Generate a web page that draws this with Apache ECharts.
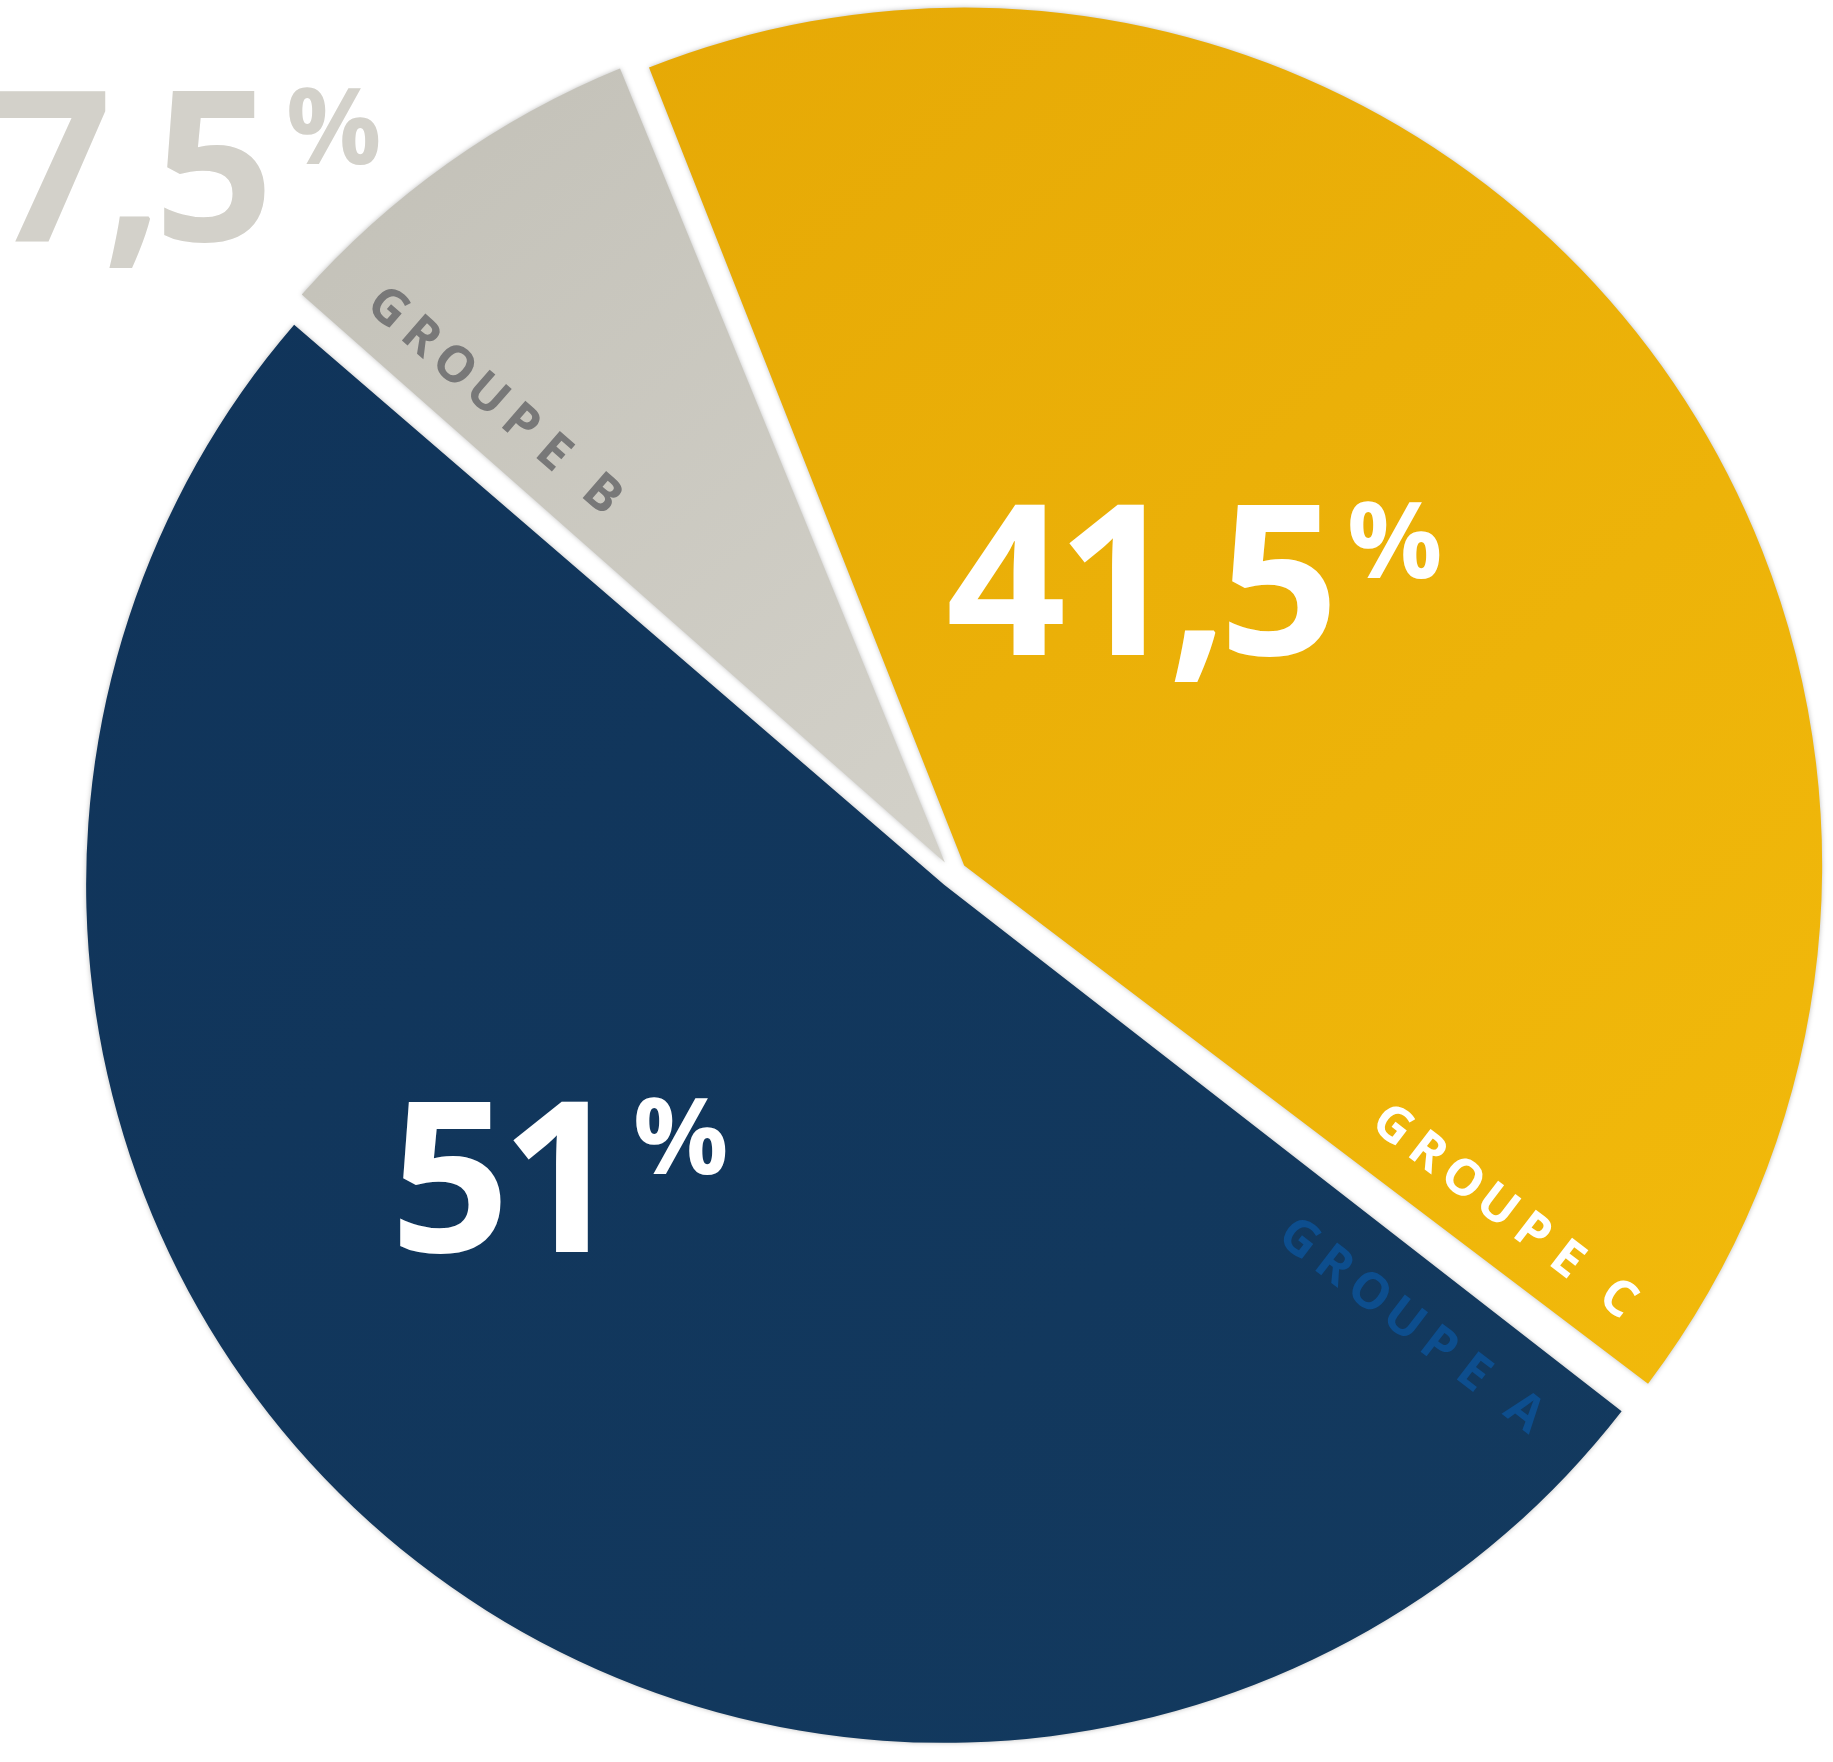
<!DOCTYPE html>
<html>
<head>
<meta charset="utf-8">
<script src="https://cdn.jsdelivr.net/npm/echarts@6/dist/echarts.min.js"></script>
<style>
html,body{margin:0;padding:0;background:#fff;}
#chart{width:1833px;height:1762px;}
</style>
</head>
<body>
<div id="chart"></div>
<script>
// ---- data ----
const categories = ['Groupe C', 'Groupe A', 'Groupe B'];
const values = [41.5, 51, 7.5];
const valueLabels = ['41,5', '51', '7,5'];
const groupLabels = ['GROUPE C', 'GROUPE A', 'GROUPE B'];

// ---- layout / style ----
const CENTER = [953, 874];
const RADIUS = 858;
const START = 111.9;
const PAD = 0.7;
const FAMILY = '"Open Sans", "Noto Sans", sans-serif';
const GROUP_FONT = 50;

const sliceColors = [
  {type:'linear', x:0, y:0, x2:1, y2:1, colorStops:[{offset:0,color:'#E6A906'},{offset:1,color:'#F2BA0B'}]},
  {type:'linear', x:0, y:0, x2:1, y2:1, colorStops:[{offset:0,color:'#10345A'},{offset:1,color:'#133A5F'}]},
  {type:'linear', x:0, y:0, x2:1, y2:1, colorStops:[{offset:0,color:'#C2C0B7'},{offset:1,color:'#D3D1C9'}]}
];

const total = values.reduce((a, b) => a + b, 0);
const bGoldNavy = START - 360 * values[0] / total;
const bNavyGray = bGoldNavy - 360 * values[1] / total;

function placeAlong(theta, rho, delta) {
  const t = theta * Math.PI / 180;
  const ux = Math.cos(t), uy = -Math.sin(t);
  const nx = -Math.sin(t), ny = -Math.cos(t);
  return [CENTER[0] + rho * ux + delta * nx, CENTER[1] + rho * uy + delta * ny];
}

const measureCtx = document.createElement('canvas').getContext('2d');
function charWidth(ch, size) {
  measureCtx.font = 'bold ' + size + 'px ' + FAMILY;
  return measureCtx.measureText(ch).width;
}

function spacedLabel(text, pos, angleDeg, color) {
  const pitch = 44, spaceGap = 64;
  let x = 0;
  const chars = text.split('');
  const letters = [];
  for (let i = 0; i < chars.length; i++) {
    if (chars[i] === ' ') continue;
    letters.push({ch: chars[i], x: x});
    x += (chars[i + 1] === ' ') ? spaceGap : pitch;
  }
  const last = letters[letters.length - 1].x;
  return {
    type: 'group',
    x: pos[0], y: pos[1],
    z: 20,
    rotation: angleDeg * Math.PI / 180,
    silent: true,
    children: letters.map(l => ({
      type: 'text',
      z: 20,
      x: l.x - last / 2, y: 0,
      style: {
        text: l.ch, fill: color,
        fontSize: GROUP_FONT, fontWeight: 'bold', fontFamily: FAMILY,
        align: 'center', verticalAlign: 'middle'
      }
    }))
  };
}

// number drawn glyph by glyph with tight tracking, then a raised "%"
function bigLabel(numText, x, y, align, pctX, pctY, color) {
  const size = 210;
  const tracking = -9;
  const chars = numText.split('');
  const widths = chars.map(c => charWidth(c, size));
  const totalW = widths.reduce((a, b) => a + b, 0) + tracking * (chars.length - 1);
  let cx = align === 'right' ? x - totalW : x;
  const els = [];
  chars.forEach((c, i) => {
    els.push({type:'text', x:cx, y:y, z:20, silent:true,
      style:{text:c, fill:color, fontSize:size, fontWeight:'bold', fontFamily:FAMILY, align:'left', verticalAlign:'middle'}});
    cx += widths[i] + tracking;
  });
  els.push({type:'text', x:pctX, y:pctY, z:20, silent:true,
    style:{text:'%', fill:color, fontSize:106, fontWeight:'bold', fontFamily:FAMILY, align:'left', verticalAlign:'middle'}});
  return els;
}

const chart = echarts.init(document.getElementById('chart'), null, {renderer: 'canvas'});

const graphics = []
  .concat(bigLabel(valueLabels[0], 946, 595, 'left', 1347, 548, '#FFFFFF'))
  .concat(bigLabel(valueLabels[1], 390, 1192, 'left', 633, 1144, '#FFFFFF'))
  .concat(bigLabel(valueLabels[2], 274, 181, 'right', 286, 134, '#D3D1CA'));

graphics.push(spacedLabel(groupLabels[0], placeAlong(bGoldNavy, 644, 67), bGoldNavy, '#FFFFFF'));
graphics.push(spacedLabel(groupLabels[1], placeAlong(bGoldNavy, 639, -80), bGoldNavy, '#0D4E8E'));
graphics.push(spacedLabel(groupLabels[2], placeAlong(bNavyGray, 656, -54), bNavyGray - 180, '#787878'));

chart.setOption({
  backgroundColor: '#FFFFFF',
  animation: false,
  series: [{
    type: 'pie',
    z: 2,
    center: CENTER,
    radius: RADIUS,
    startAngle: START,
    clockwise: true,
    padAngle: PAD,
    selectedMode: 'multiple',
    selectedOffset: 14,
    label: {show: false},
    labelLine: {show: false},
    emphasis: {disabled: true},
    itemStyle: {
      shadowBlur: 5,
      shadowColor: 'rgba(0,0,0,0.25)'
    },
    data: categories.map((c, i) => ({
      name: c,
      value: values[i],
      selected: true,
      itemStyle: {color: sliceColors[i]}
    }))
  }],
  graphic: {elements: graphics}
});
</script>
</body>
</html>
